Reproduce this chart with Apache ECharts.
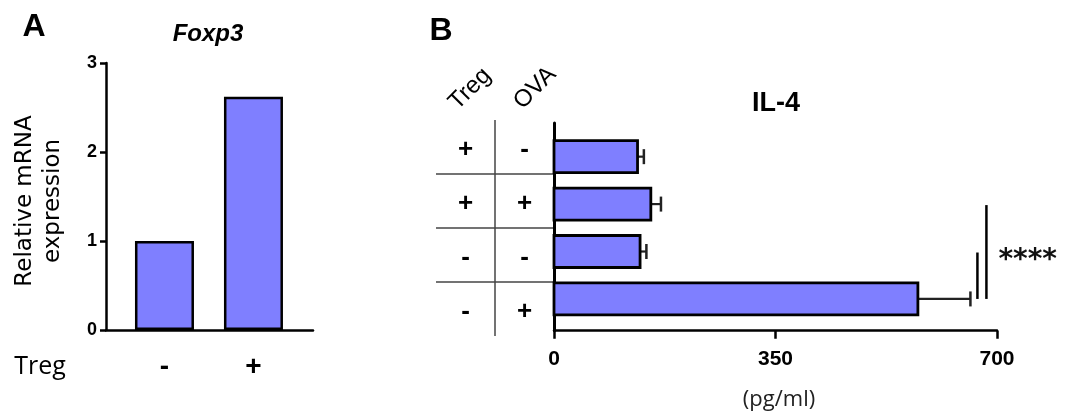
<!DOCTYPE html>
<html>
<head>
<meta charset="utf-8">
<script src="https://cdn.jsdelivr.net/npm/echarts@6/dist/echarts.min.js"></script>
<style>html,body{margin:0;padding:0;background:#fff}#c{width:1065px;height:412px}</style>
</head>
<body>
<div id="c"></div>
<script>
// ---- Panel A data ----
const foxCategories = ['-', '+'];
const foxValues = [1.0, 2.62];
const foxTicks = [0, 1, 2, 3];
// ---- Panel B data ----
const il4Treg = ['+', '+', '-', '-'];
const il4Ova = ['-', '+', '-', '+'];
const il4Mean = [132, 153, 136, 575];
const il4Err = [10, 16, 10, 83];
const il4Ticks = [0, 350, 700];
const sigPairs = [[2, 3], [1, 3]];
const sigLabel = '****';

const BAR = '#7f7fff';
const chart = echarts.init(document.getElementById('c'), null, {renderer: 'canvas'});

const foxData = foxValues.map((v, i) => [i, v]);
const il4Data = il4Mean.map((m, i) => [m, i, il4Err[i]]);
const tableData = [];
il4Treg.forEach((t, i) => tableData.push([0, i, t]));
il4Ova.forEach((t, i) => tableData.push([1, i, t]));
const sigData = sigPairs.map((p, k) => {
  const end = Math.max(il4Mean[p[0]] + il4Err[p[0]], il4Mean[p[1]] + il4Err[p[1]]);
  return [end, p[0], p[1], k];
});

const option = {
  animation: false,
  grid: [
    {left: 106, top: 63, width: 207, height: 267},
    {left: 554, top: 123, width: 443, height: 207.7},
    {left: 436, top: 120, width: 118, height: 216}
  ],
  xAxis: [
    {
      gridIndex: 0, type: 'value', min: -0.657, max: 1.669,
      axisLine: {show: true, onZero: false, lineStyle: {color: '#000', width: 2.5}},
      axisTick: {show: false}, splitLine: {show: false},
      axisLabel: {
        customValues: [0, 1], margin: 23,
        fontFamily: 'Liberation Sans', fontWeight: 'bold', fontSize: 28, color: '#000',
        formatter: v => foxCategories[Math.round(v)] || ''
      }
    },
    {
      gridIndex: 1, type: 'value', min: 0, max: 700, interval: 350,
      axisLine: {show: true, onZero: false, lineStyle: {color: '#000', width: 2.5}},
      axisTick: {show: true, length: 8, lineStyle: {color: '#000', width: 2.5}},
      splitLine: {show: false},
      axisLabel: {margin: 18, fontFamily: 'Liberation Sans', fontWeight: 'bold', fontSize: 21, color: '#000',
        customValues: il4Ticks}
    },
    {
      gridIndex: 2, type: 'category', data: ['Treg', 'OVA'],
      axisLine: {show: false}, axisTick: {show: false}, axisLabel: {show: false},
      splitLine: {show: true, interval: 0, showMinLine: false, showMaxLine: false, lineStyle: {color: '#444', width: 1.5}}
    }
  ],
  yAxis: [
    {
      gridIndex: 0, type: 'value', min: 0, max: 3, interval: 1,
      axisLine: {show: true, onZero: false, lineStyle: {color: '#000', width: 2.5}},
      axisTick: {show: true, length: 6, lineStyle: {color: '#000', width: 2.5}},
      splitLine: {show: false},
      axisLabel: {margin: 9, fontFamily: 'Liberation Sans', fontWeight: 'bold', fontSize: 18, color: '#000'}
    },
    {
      gridIndex: 1, type: 'value', min: -0.71, max: 3.67, inverse: true,
      axisLine: {show: true, onZero: false, lineStyle: {color: '#000', width: 3}},
      axisTick: {show: false}, axisLabel: {show: false}, splitLine: {show: false}
    },
    {
      gridIndex: 2, type: 'category', inverse: true, data: il4Treg.map((t, i) => 'r' + i),
      axisLine: {show: false}, axisTick: {show: false}, axisLabel: {show: false},
      splitLine: {show: true, interval: 0, showMinLine: false, showMaxLine: false, lineStyle: {color: '#444', width: 1.5}}
    }
  ],
  series: [
    {
      type: 'bar', xAxisIndex: 0, yAxisIndex: 0, data: foxData, barWidth: 59,
      itemStyle: {color: BAR, borderColor: '#000', borderWidth: 2.5}
    },
    {
      type: 'custom', xAxisIndex: 1, yAxisIndex: 1, data: il4Data, clip: false,
      encode: {x: 0, y: 1},
      renderItem: function (params, api) {
        const v = api.value(0), row = api.value(1), e = api.value(2);
        const p0 = api.coord([0, row]);
        const p1 = api.coord([v, row]);
        const pe = api.coord([v + e, row]);
        const h = api.size([0, 1])[1] * 0.675;
        return {
          type: 'group',
          children: [
            {type: 'line', shape: {x1: p1[0], y1: p1[1], x2: pe[0], y2: pe[1]}, style: {stroke: '#222', lineWidth: 2.2}},
            {type: 'line', shape: {x1: pe[0], y1: pe[1] - 7.5, x2: pe[0], y2: pe[1] + 7.5}, style: {stroke: '#222', lineWidth: 2.5}},
            {type: 'rect', shape: {x: p0[0], y: p0[1] - h / 2, width: p1[0] - p0[0], height: h},
              style: {fill: BAR, stroke: '#000', lineWidth: 2.8}}
          ]
        };
      }
    },
    {
      type: 'custom', xAxisIndex: 1, yAxisIndex: 1, data: sigData, clip: false,
      encode: {x: 0, y: [1, 2]},
      renderItem: function (params, api) {
        const end = api.value(0), a = api.value(1), b = api.value(2), k = api.value(3);
        const pa = api.coord([end, a]);
        const pb = api.coord([end, b]);
        const x = pa[0] + 7 + 9 * k;
        const children = [
          {type: 'line', shape: {x1: x, y1: pa[1] + 1, x2: x, y2: pb[1]}, style: {stroke: '#000', lineWidth: 2.5}}
        ];
        if (k === sigPairs.length - 1) {
          children.push({type: 'text', x: x + 12, y: (pa[1] + pb[1]) / 2 + 9,
            style: {text: sigLabel, fill: '#111', font: 'bold 28px "DejaVu Sans"', textAlign: 'left', textVerticalAlign: 'middle'}});
        }
        return {type: 'group', children: children};
      }
    },
    {
      type: 'custom', xAxisIndex: 2, yAxisIndex: 2, data: tableData, clip: false,
      encode: {x: 0, y: 1},
      renderItem: function (params, api) {
        const p = api.coord([api.value(0), api.value(1)]);
        const t = tableData[params.dataIndex][2];
        return {type: 'text', x: p[0], y: p[1] + 3,
          style: {text: t, fill: '#000', font: 'bold 26px "Liberation Sans"', textAlign: 'center', textVerticalAlign: 'middle'}};
      }
    }
  ],
  graphic: [
    {type: 'text', x: 34, y: 27, style: {text: 'A', font: 'bold 32px "Liberation Sans"', fill: '#000', textAlign: 'center', textVerticalAlign: 'middle'}},
    {type: 'text', x: 441, y: 31, style: {text: 'B', font: 'bold 32px "Liberation Sans"', fill: '#000', textAlign: 'center', textVerticalAlign: 'middle'}},
    {type: 'text', x: 208, y: 34, style: {text: 'Foxp3', font: 'italic bold 24px "Liberation Sans"', fill: '#000', textAlign: 'center', textVerticalAlign: 'middle'}},
    {type: 'text', x: 25, y: 201, rotation: Math.PI / 2, style: {text: 'Relative mRNA', font: '500 23px "DejaVu Sans"', fill: '#000', textAlign: 'center', textVerticalAlign: 'middle'}},
    {type: 'text', x: 53, y: 201, rotation: Math.PI / 2, style: {text: 'expression', font: '500 23px "DejaVu Sans"', fill: '#000', textAlign: 'center', textVerticalAlign: 'middle'}},
    {type: 'text', x: 40, y: 367, style: {text: 'Treg', font: '25px "Open Sans"', fill: '#000', textAlign: 'center', textVerticalAlign: 'middle'}},
    {type: 'text', x: 470, y: 89, rotation: Math.PI / 4, style: {text: 'Treg', font: '24px "Liberation Sans"', fill: '#000', textAlign: 'center', textVerticalAlign: 'middle'}},
    {type: 'text', x: 535, y: 88, rotation: Math.PI / 4, style: {text: 'OVA', font: '24px "Liberation Sans"', fill: '#000', textAlign: 'center', textVerticalAlign: 'middle'}},
    {type: 'text', x: 776, y: 104, style: {text: 'IL-4', font: 'bold 27px "Liberation Sans"', fill: '#000', textAlign: 'center', textVerticalAlign: 'middle'}},
    {type: 'text', x: 779, y: 400, style: {text: '(pg/ml)', font: '22px "Open Sans"', fill: '#222', textAlign: 'center', textVerticalAlign: 'middle'}}
  ]
};
chart.setOption(option);
</script>
</body>
</html>
